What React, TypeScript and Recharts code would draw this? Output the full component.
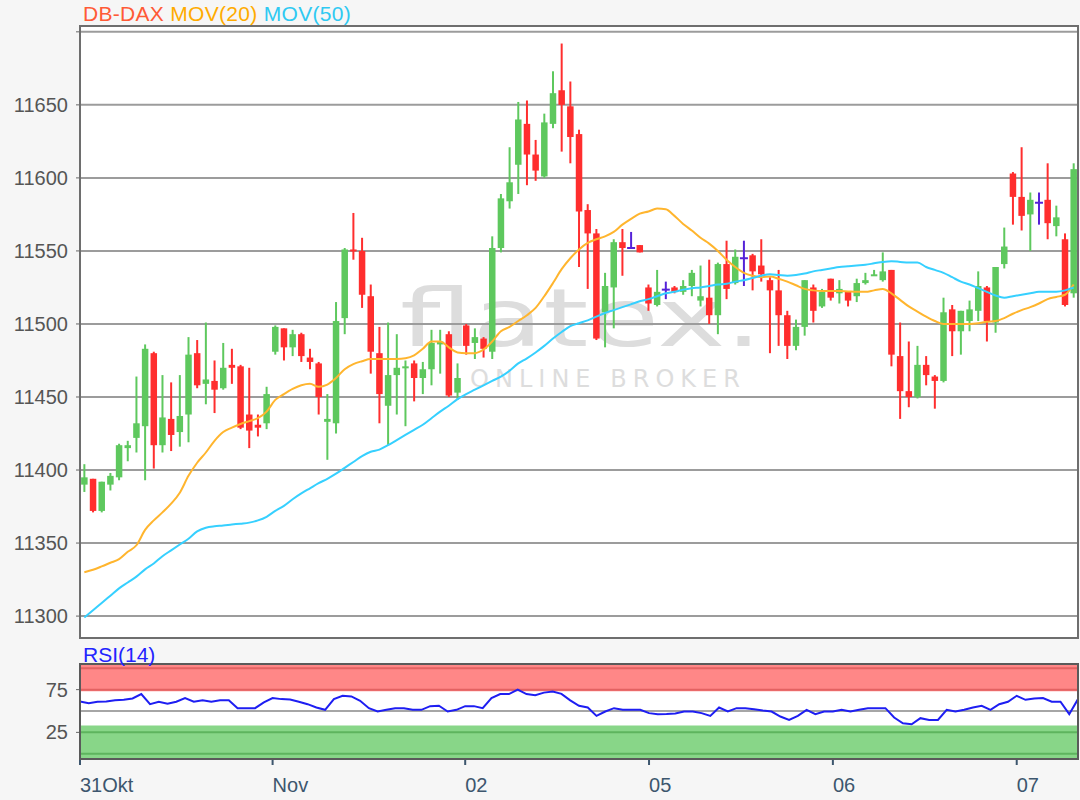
import React from 'react';
import {
  ComposedChart,
  Bar,
  Line,
  XAxis,
  YAxis,
  CartesianGrid,
  ReferenceArea,
  ReferenceLine,
} from 'recharts';

// hourly candles, 31 Okt .. 07 Nov
const opens = [
  11390, 11394, 11372, 11390, 11395, 11415, 11422, 11430, 11480, 11417,
  11435, 11426, 11438, 11480, 11459, 11461, 11456, 11472, 11471, 11438,
  11431, 11432, 11481, 11497, 11484, 11493, 11477, 11473, 11433, 11432,
  11504, 11551, 11550, 11519, 11480, 11444, 11465, 11470, 11473, 11463,
  11469, 11486, 11493, 11453, 11499, 11487, 11490, 11481, 11552, 11584,
  11609, 11637, 11616, 11601, 11637, 11660, 11649, 11630, 11578, 11562,
  11508, 11525, 11556, 11552, 11554, 11525, 11513, 11523.5, 11525, 11522,
  11526, 11516, 11518, 11506, 11541, 11528, 11545, 11547, 11540, 11530,
  11523, 11506, 11485, 11498, 11525, 11512, 11531, 11521, 11522, 11519,
  11528, 11533, 11530, 11537, 11478, 11454, 11450, 11472, 11464, 11461,
  11510, 11495, 11502, 11509, 11525, 11501, 11541, 11603, 11587, 11575,
  11583, 11585, 11567, 11558, 11521,
];
const closes = [
  11395, 11372, 11392, 11396, 11417, 11417, 11432, 11483, 11417, 11436,
  11424, 11437, 11479, 11458, 11462, 11455, 11470, 11470, 11429, 11427,
  11429, 11452, 11498, 11484, 11493, 11478, 11474, 11450, 11435, 11502,
  11551, 11550, 11520, 11481, 11452, 11465, 11470, 11471, 11463, 11469,
  11487, 11488, 11451, 11463, 11485, 11491, 11483, 11552, 11586, 11597,
  11640, 11616, 11605, 11638, 11658, 11650, 11628, 11577, 11562, 11490,
  11526, 11556, 11552, 11552, 11549, 11514, 11522, 11523.5, 11522, 11526,
  11535, 11519, 11506, 11541, 11524, 11546, 11545, 11536, 11534, 11523,
  11506, 11485, 11498, 11530, 11509, 11522, 11518, 11524, 11516, 11528,
  11530, 11534, 11536, 11479, 11454, 11450, 11472, 11465, 11461, 11508,
  11495, 11509, 11510, 11526, 11502, 11539, 11553, 11587, 11574, 11585,
  11583, 11569, 11573, 11513, 11606,
];
const highs = [
  11404, 11394, 11392, 11398, 11418, 11420, 11464, 11486, 11481, 11465,
  11460, 11465, 11491, 11489, 11501, 11475, 11487, 11483, 11472, 11470,
  11438, 11457, 11499, 11497, 11496, 11494, 11483, 11474, 11452, 11515,
  11552, 11576, 11559, 11527, 11498, 11501, 11493, 11475, 11475, 11474,
  11496, 11496, 11495, 11473, 11500, 11497, 11491, 11560, 11589, 11621,
  11652, 11653, 11626, 11644, 11673, 11692, 11666, 11633, 11582, 11565,
  11535, 11558, 11565, 11563, 11554, 11527, 11537, 11529, 11526, 11530,
  11537, 11540, 11544, 11542, 11557, 11551, 11557, 11548, 11558, 11532,
  11537, 11509, 11503, 11530, 11527, 11524, 11531, 11530, 11522, 11531,
  11535, 11537, 11549, 11537, 11501, 11488, 11485, 11478, 11465, 11518,
  11513, 11509, 11516, 11536, 11526, 11539, 11566, 11604, 11621, 11590,
  11590, 11610, 11581, 11562, 11610,
];
const lows = [
  11385, 11371, 11371, 11386, 11393, 11406, 11412, 11393, 11401, 11412,
  11413, 11416, 11419, 11456, 11445, 11439, 11455, 11459, 11428, 11415,
  11423, 11428, 11479, 11475, 11478, 11474, 11469, 11438, 11407, 11425,
  11493, 11544, 11511, 11466, 11432, 11417, 11438, 11430, 11447, 11452,
  11458, 11466, 11450, 11448, 11479, 11476, 11477, 11476, 11549, 11579,
  11589, 11595, 11598, 11600, 11634, 11618, 11610, 11539, 11524, 11489,
  11484, 11497, 11533, 11552, 11549, 11509, 11512, 11517, 11521, 11520,
  11519, 11512, 11500, 11493, 11517, 11527, 11526, 11523, 11529, 11480,
  11485, 11476, 11482, 11492, 11501, 11511, 11516, 11514, 11512, 11515,
  11527, 11533, 11529, 11471, 11435, 11443, 11449, 11458, 11442, 11460,
  11478, 11479, 11495, 11502, 11488, 11494, 11538, 11568, 11564, 11550,
  11568, 11558, 11560, 11512, 11518,
];
const mov20 = [
  11330, 11331.7, 11334, 11336.5, 11339, 11344, 11348.5, 11359, 11365.5, 11371,
  11377, 11384.5, 11396, 11405, 11412, 11420, 11426, 11429, 11431.5, 11433.5,
  11435.5, 11440, 11448, 11452, 11455.5, 11458, 11459, 11457, 11458.5, 11463,
  11469, 11472.5, 11474.5, 11476, 11476, 11476, 11476, 11476.5, 11478.5, 11483,
  11488, 11488, 11484, 11480.5, 11480, 11480, 11482.5, 11488, 11495, 11498,
  11502, 11506, 11511, 11519, 11528, 11537.5, 11545, 11551, 11555.5, 11558,
  11560, 11563, 11568, 11572, 11575.5, 11577, 11579, 11578.5, 11574, 11568.5,
  11564, 11559, 11555, 11550, 11544, 11539, 11535, 11533, 11532, 11532.5,
  11531, 11529, 11526.5, 11524, 11523, 11522.6, 11522.6, 11522.6, 11522.3, 11522,
  11522, 11523, 11524, 11521, 11516.5, 11512, 11508.5, 11505, 11502, 11500,
  11500, 11500, 11500, 11500.5, 11501.5, 11502, 11504, 11507, 11509.5, 11511.5,
  11514, 11517, 11518.5, 11520, 11527,
];
const mov50 = [
  11299, 11304, 11309, 11314, 11319, 11323, 11327, 11332, 11336, 11341,
  11345, 11349, 11353, 11358, 11360.5, 11361.5, 11362, 11362.7, 11363.3, 11364,
  11365.5, 11368, 11372, 11375.5, 11380, 11384, 11387.5, 11391, 11394, 11397.5,
  11401.5, 11405.5, 11409.5, 11412.5, 11414, 11417, 11420.5, 11424, 11427.5, 11431,
  11435.5, 11440, 11444, 11448.5, 11452, 11455, 11458, 11461, 11464, 11468,
  11473, 11476.5, 11480.5, 11485, 11490, 11494.5, 11498.5, 11500.5, 11502.5, 11505,
  11507.5, 11509.5, 11511.5, 11513.5, 11515.5, 11517, 11519, 11521, 11522, 11523.5,
  11524.5, 11525, 11526, 11527, 11527.5, 11529, 11530, 11531.5, 11533, 11534,
  11533.5, 11533, 11533.5, 11534.5, 11536, 11537, 11538, 11539, 11539.5, 11540,
  11540.5, 11541.5, 11542.5, 11543, 11542.5, 11542, 11542, 11539, 11537, 11535,
  11532, 11529, 11527, 11524.5, 11522, 11519.5, 11518, 11519, 11520, 11521,
  11522, 11522, 11522, 11523, 11525,
];
const rsi14 = [
  61.2, 59.2, 60.8, 61.2, 62.7, 63.1, 64.7, 69.8, 58, 60.8,
  58.4, 60.8, 65.1, 60.8, 62.7, 60.8, 62.7, 62.7, 53.3, 53.3,
  53.3, 60, 65.1, 63.9, 63.5, 60.8, 58, 54.1, 51.4, 63.9,
  67.8, 67.1, 62, 53.3, 49.4, 51.4, 53.3, 53.3, 51.4, 51.4,
  55.7, 56.1, 49.4, 51.4, 55.7, 55.7, 53.3, 65.1, 69.8, 69.8,
  74.9, 69.8, 68.5, 71.5, 72.9, 70, 62.5, 56.1, 54.1, 44.3,
  49.4, 53.3, 51.4, 51.4, 51.4, 47.5, 46.3, 46.5, 47.2, 49.4,
  49.4, 47.5, 44.3, 54.1, 49.4, 53.3, 53.3, 52, 50.5, 49.4,
  43.5, 39.6, 44.3, 51.4, 46.3, 49.4, 49.4, 51.4, 49.4, 51.5,
  53.3, 53.3, 53.3, 42.4, 35.7, 34.5, 41.6, 39.6, 39.6, 51.4,
  49.4, 51.4, 54.1, 56.1, 51.4, 58, 60.8, 67.8, 63.1, 64.7,
  65.1, 60.8, 60.8, 46.3, 63.9,
];

// candle index where each day starts
const dayTicks = [0, 22, 44, 65, 86, 107];
const dayLabels = ['31Okt', 'Nov', '02', '05', '06', '07'];
const priceTicks = [11300, 11350, 11400, 11450, 11500, 11550, 11600, 11650, 11700];
const rsiTicks = [25, 75];

const data = opens.map((o, i) => ({
  i,
  o,
  h: highs[i],
  l: lows[i],
  c: closes[i],
  ma20: mov20[i],
  ma50: mov50[i],
  rsi: rsi14[i],
}));

const UP = '#5ec85e';
const DOWN = '#ff2e2e';
const DOJI = '#5522d8';

function Candle(props: any) {
  const { x, y, width, height, payload } = props;
  if (!payload) return null;
  const top = Math.min(y, y + height);
  const span = Math.abs(height);
  const range = payload.h - payload.l;
  const toY = (v: number) => (range > 0 ? top + ((payload.h - v) / range) * span : top);
  const cx = x + width / 2;
  const color = payload.c > payload.o ? UP : payload.c < payload.o ? DOWN : DOJI;
  const bodyTop = toY(Math.max(payload.o, payload.c));
  const bodyBot = toY(Math.min(payload.o, payload.c));

  return (
    <g>
      <line x1={cx} x2={cx} y1={top} y2={top + span} stroke={color} strokeWidth={2} />
      {payload.c === payload.o ? (
        <line x1={cx - 4} x2={cx + 4} y1={bodyTop} y2={bodyTop} stroke={color} strokeWidth={2} />
      ) : (
        <rect x={cx - 3.25} y={bodyTop} width={6.5} height={Math.max(2, bodyBot - bodyTop)} fill={color} />
      )}
    </g>
  );
}

function DayTick(props: any) {
  const { x, y, payload } = props;
  const k = dayTicks.indexOf(payload.value);
  if (k < 0) return <g />;
  return (
    <g>
      <line x1={x} x2={x} y1={y} y2={y + 7} stroke="#3d566e" strokeWidth={2} />
      <text x={x} y={y + 34} fill="#3d566e" fontSize={20} textAnchor="start">
        {dayLabels[k]}
      </text>
    </g>
  );
}

export default function App() {
  return (
    <div
      style={{
        position: 'absolute',
        left: 0,
        top: 0,
        width: 1080,
        height: 800,
        background: '#f6f6f6',
        fontFamily: '"Liberation Sans", Arial, sans-serif',
        overflow: 'hidden',
      }}
    >
      {/* plot backgrounds */}
      <div style={{ position: 'absolute', left: 80, top: 26, width: 998, height: 612, background: '#fff' }} />
      <div style={{ position: 'absolute', left: 80, top: 664, width: 998, height: 94, background: '#fff' }} />

      {/* watermark */}
      <svg width={1080} height={800} style={{ position: 'absolute', left: 0, top: 0 }}>
        <text x={400} y={346} fontSize={80} fill="#dddddd" fontFamily="DejaVu Sans" textLength={362} lengthAdjust="spacingAndGlyphs">
          flatex.
        </text>
        <text x={470} y={387} fontSize={24} fill="#dddddd" fontFamily="DejaVu Sans" textLength={270} lengthAdjust="spacing">
          ONLINE BROKER
        </text>
      </svg>

      {/* price chart */}
      <div style={{ position: 'absolute', left: 0, top: 0 }}>
        <ComposedChart width={1080} height={640} data={data} margin={{ top: 26, right: 2, bottom: 2, left: 0 }}>
          <CartesianGrid vertical={false} stroke="#9c9c9c" strokeWidth={2} />
          <XAxis dataKey="i" type="category" hide />
          <YAxis
            domain={[11285, 11704]}
            ticks={priceTicks}
            interval={0}
            allowDataOverflow
            width={80}
            axisLine={false}
            tickLine={{ stroke: '#666' }}
            tickSize={4}
            tickMargin={8}
            tick={{ fill: '#555', fontSize: 20 }}
            tickFormatter={(v: number) => (v === 11700 ? '' : String(v))}
          />
          <Bar dataKey={(d: any) => [d.l, d.h]} shape={<Candle />} isAnimationActive={false} />
          <Line dataKey="ma20" type="monotone" stroke="#ffb52e" strokeWidth={2} dot={false} isAnimationActive={false} />
          <Line dataKey="ma50" type="monotone" stroke="#36d0ff" strokeWidth={2} dot={false} isAnimationActive={false} />
        </ComposedChart>
      </div>

      {/* RSI panel */}
      <div style={{ position: 'absolute', left: 0, top: 640 }}>
        <ComposedChart width={1080} height={160} data={data} margin={{ top: 24, right: 2, bottom: 0, left: 0 }}>
          <ReferenceArea y1={73} y2={105} fill="#ff8787" fillOpacity={1} stroke="none" />
          <ReferenceArea y1={-5} y2={33} fill="#88d688" fillOpacity={1} stroke="none" />
          <ReferenceLine y={100} stroke="#e36262" strokeWidth={2} />
          <ReferenceLine y={75} stroke="#e36262" strokeWidth={2} />
          <ReferenceLine y={25} stroke="#5eb45e" strokeWidth={2} />
          <ReferenceLine y={0} stroke="#5eb45e" strokeWidth={2} />
          <ReferenceLine y={50} stroke="#a6a6a6" strokeWidth={2} />
          <XAxis
            dataKey="i"
            type="category"
            interval={0}
            height={42}
            tickSize={0}
            tickMargin={0}
            tickLine={false}
            axisLine={false}
            tick={<DayTick />}
          />
          <YAxis
            domain={[-5, 105]}
            ticks={rsiTicks}
            interval={0}
            allowDataOverflow
            width={80}
            axisLine={false}
            tickLine={{ stroke: '#666' }}
            tickSize={4}
            tickMargin={8}
            tick={{ fill: '#555', fontSize: 20 }}
          />
          <Line dataKey="rsi" type="linear" stroke="#1e1ef2" strokeWidth={2} dot={false} isAnimationActive={false} />
        </ComposedChart>
      </div>

      {/* frames */}
      <div style={{ position: 'absolute', left: 79, top: 25, width: 1000, height: 614, border: '2px solid #6e6e6e', boxSizing: 'border-box' }} />
      <div style={{ position: 'absolute', left: 79, top: 663, width: 1000, height: 97, border: '2px solid #5a5a5a', boxSizing: 'border-box' }} />

      {/* titles */}
      <svg width={1080} height={800} style={{ position: 'absolute', left: 0, top: 0, pointerEvents: 'none' }}>
        <text x={83} y={21} fontSize={21} letterSpacing={0.3}>
          <tspan fill="#ff5a36">DB-DAX</tspan>
          <tspan fill="#ffab00"> MOV(20)</tspan>
          <tspan fill="#2ec9f2"> MOV(50)</tspan>
        </text>
        <text x={83} y={662} fontSize={21} fill="#2323ff">
          RSI(14)
        </text>
      </svg>
    </div>
  );
}
